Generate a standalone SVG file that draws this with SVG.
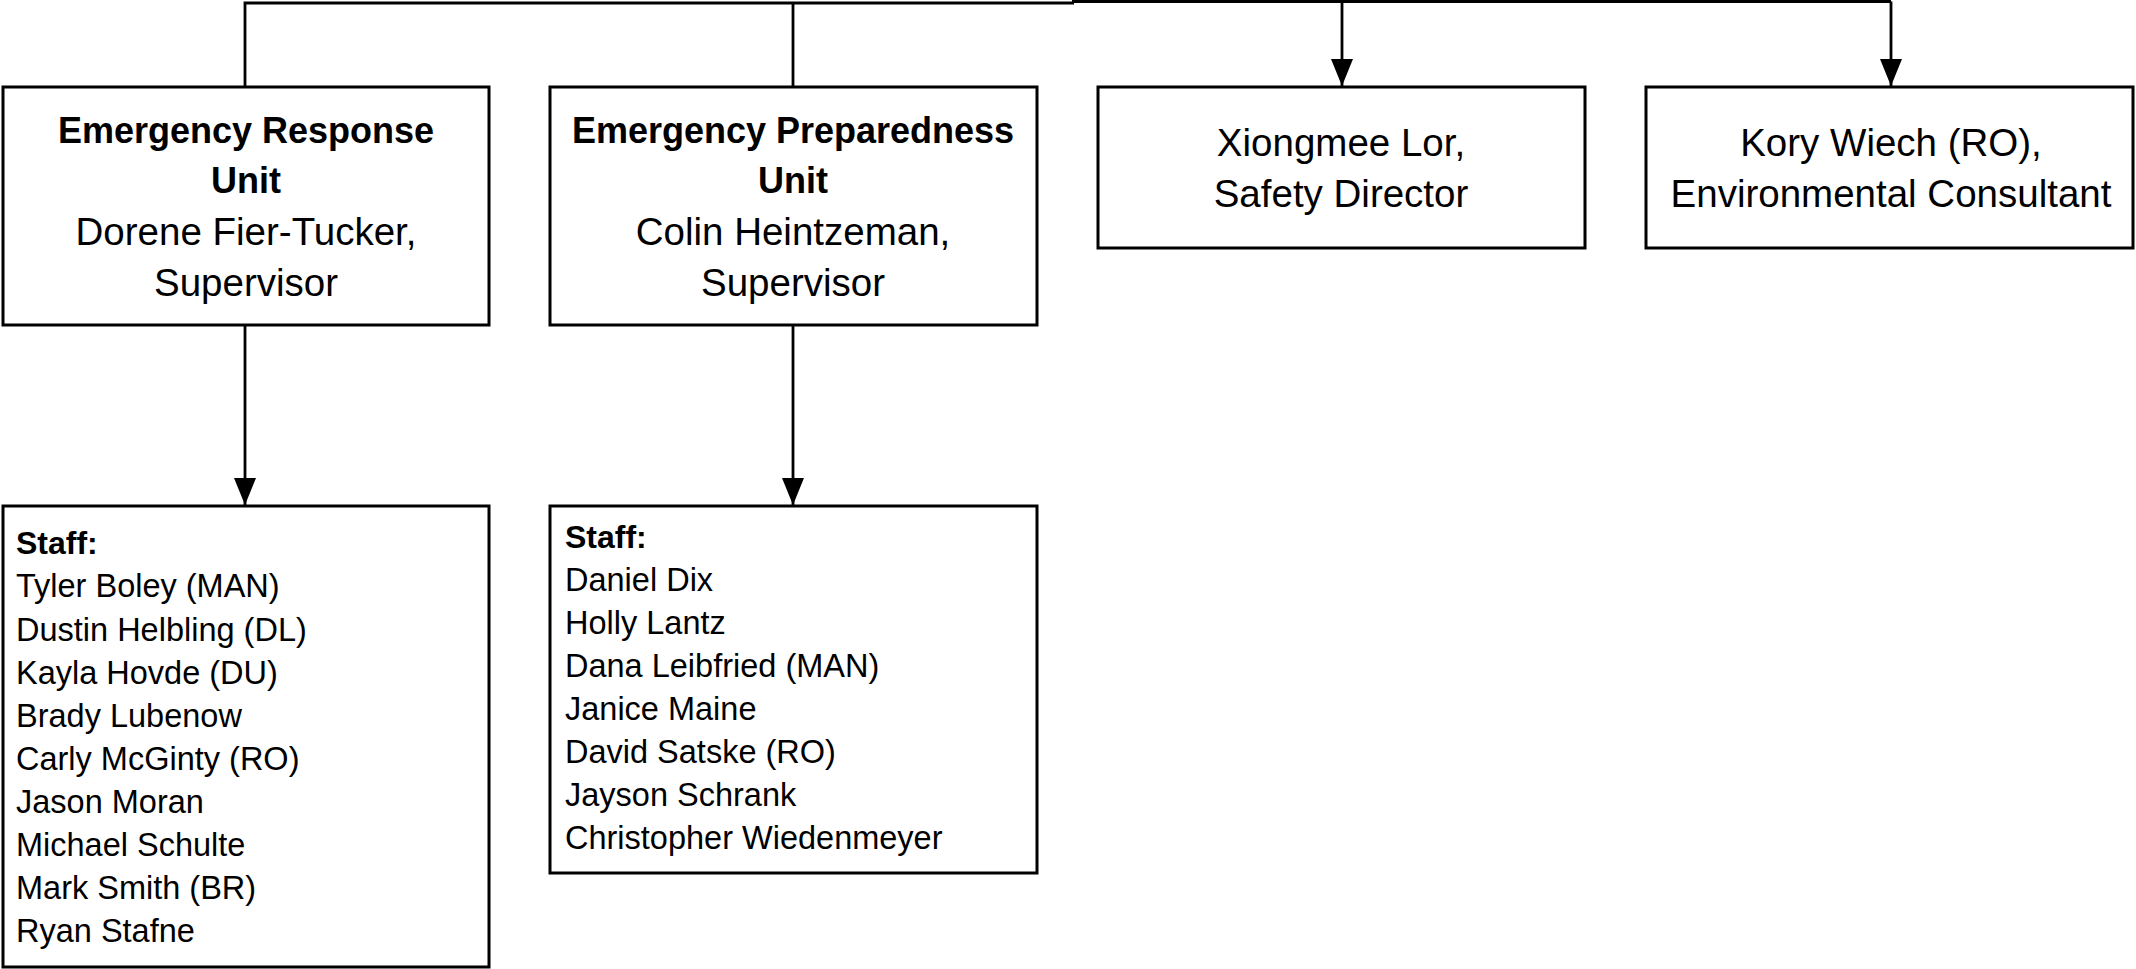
<svg xmlns="http://www.w3.org/2000/svg" width="2136" height="969" viewBox="0 0 2136 969">
<style>
.box{fill:#ffffff;stroke:#000000;stroke-width:3}
.con{fill:none;stroke:#000000;stroke-width:2.8}
text{font-family:"Liberation Sans",Arial,sans-serif;fill:#000000}
.hb{font-size:36px;font-weight:bold;text-anchor:middle}
.hr{font-size:38.5px;text-anchor:middle}
.sb{font-size:32px;font-weight:bold}
.sr{font-size:32.5px}
</style>
<defs>
<marker id="arr" markerUnits="userSpaceOnUse" markerWidth="27" markerHeight="22" viewBox="0 0 27 22" refX="27" refY="11" orient="auto">
<path d="M0,0 L27,11 L0,22 z" fill="#000000"/>
</marker>
</defs>
<rect x="0" y="0" width="2136" height="969" fill="#ffffff"/>
<g id="connectors">
<path class="con" d="M245,87 V3 H1074"/>
<path class="con" d="M1072,1.5 H1891"/>
<path class="con" d="M793,3 V87"/>
<path class="con" d="M1342,1.5 V86" marker-end="url(#arr)"/>
<path class="con" d="M1891,1.5 V86" marker-end="url(#arr)"/>
<path class="con" d="M245,325 V505" marker-end="url(#arr)"/>
<path class="con" d="M793,325 V505" marker-end="url(#arr)"/>
</g>
<g id="node-response-unit">
<rect class="box" x="3" y="87" width="486" height="238"/>
<text class="hb" x="246" y="143">Emergency Response</text>
<text class="hb" x="246" y="193">Unit</text>
<text class="hr" x="246" y="245">Dorene Fier-Tucker,</text>
<text class="hr" x="246" y="296">Supervisor</text>
</g>
<g id="node-preparedness-unit">
<rect class="box" x="550" y="87" width="487" height="238"/>
<text class="hb" x="793" y="143">Emergency Preparedness</text>
<text class="hb" x="793" y="193">Unit</text>
<text class="hr" x="793" y="245">Colin Heintzeman,</text>
<text class="hr" x="793" y="296">Supervisor</text>
</g>
<g id="node-safety-director">
<rect class="box" x="1098" y="87" width="487" height="161"/>
<text class="hr" x="1341" y="156">Xiongmee Lor,</text>
<text class="hr" x="1341" y="207">Safety Director</text>
</g>
<g id="node-environmental-consultant">
<rect class="box" x="1646" y="87" width="487" height="161"/>
<text class="hr" x="1891" y="156">Kory Wiech (RO),</text>
<text class="hr" x="1891" y="207">Environmental Consultant</text>
</g>
<g id="node-response-staff">
<rect class="box" x="3" y="506" width="486" height="461"/>
<text class="sb" x="16" y="554">Staff:</text>
<text class="sr" x="16" y="597">Tyler Boley (MAN)</text>
<text class="sr" x="16" y="641">Dustin Helbling (DL)</text>
<text class="sr" x="16" y="684">Kayla Hovde (DU)</text>
<text class="sr" x="16" y="727">Brady Lubenow</text>
<text class="sr" x="16" y="770">Carly McGinty (RO)</text>
<text class="sr" x="16" y="813">Jason Moran</text>
<text class="sr" x="16" y="856">Michael Schulte</text>
<text class="sr" x="16" y="899">Mark Smith (BR)</text>
<text class="sr" x="16" y="942">Ryan Stafne</text>
</g>
<g id="node-preparedness-staff">
<rect class="box" x="550" y="506" width="487" height="367"/>
<text class="sb" x="565" y="548">Staff:</text>
<text class="sr" x="565" y="591">Daniel Dix</text>
<text class="sr" x="565" y="634">Holly Lantz</text>
<text class="sr" x="565" y="677">Dana Leibfried (MAN)</text>
<text class="sr" x="565" y="720">Janice Maine</text>
<text class="sr" x="565" y="763">David Satske (RO)</text>
<text class="sr" x="565" y="806">Jayson Schrank</text>
<text class="sr" x="565" y="849">Christopher Wiedenmeyer</text>
</g>
</svg>
